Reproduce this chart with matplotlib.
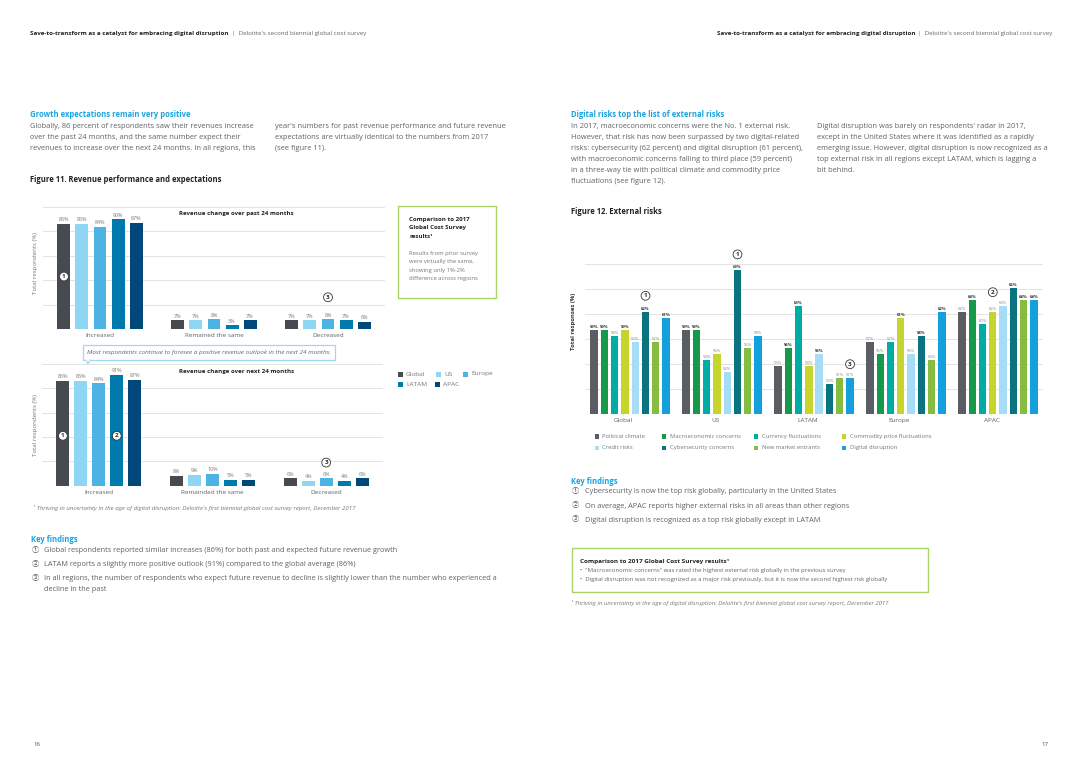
import numpy as np
import matplotlib
matplotlib.use("Agg")
import matplotlib.pyplot as plt
from matplotlib.patches import Rectangle
from matplotlib.lines import Line2D

plt.rcParams['font.family'] = ['Open Sans', 'Noto Sans CJK SC', 'DejaVu Sans']

# ---------------- data ----------------
rev_categories = ["Increased", "Remained the same", "Decreased"]
rev_next_categories = ["Increased", "Remainded the same", "Decreased"]
rev_regions = ["Global", "US", "Europe", "LATAM", "APAC"]
rev_past = {
    "Global": [86, 7, 7],
    "US": [86, 7, 7],
    "Europe": [84, 8, 8],
    "LATAM": [90, 3, 7],
    "APAC": [87, 7, 6],
}
rev_next = {
    "Global": [86, 8, 6],
    "US": [86, 9, 4],
    "Europe": [84, 10, 6],
    "LATAM": [91, 5, 4],
    "APAC": [87, 5, 6],
}

risk_groups = ["Global", "US", "LATAM", "Europe", "APAC"]
risk_series = ["Political climate", "Macroeconomic concerns", "Currency fluctuations",
               "Commodity price fluctuations", "Credit risks", "Cybersecurity concerns",
               "New market entrants", "Digital disruption"]
political = [59, 59, 53, 57, 62]
macroeconomic = [59, 59, 56, 55, 64]
currency = [58, 54, 63, 57, 60]
commodity = [59, 55, 53, 61, 62]
credit = [57, 52, 55, 55, 63]
cybersecurity = [62, 69, 50, 58, 66]
new_entrants = [57, 56, 51, 54, 64]
digital = [61, 58, 51, 62, 64]
risk_values = [political, macroeconomic, currency, commodity, credit,
               cybersecurity, new_entrants, digital]

# ---------------- styles ----------------
rev_colors = ["#474a51", "#8fd6f5", "#4cb3e4", "#0079ad", "#00487a"]
risk_colors = ["#5a5e63", "#16994a", "#00ada4", "#c5d52c", "#a6dcf5",
               "#0b7380", "#86bc3f", "#14a0dd"]
BLUE = "#1aa3df"
TXT = "#5f6166"
DARK = "#2b2b2b"
GRID = "#e3e3e3"

W, H = 1080, 764
fig = plt.figure(figsize=(W / 100, H / 100), dpi=100)
fig.patch.set_facecolor("white")
renderer = fig.canvas.get_renderer()


def fx(x):
    return x / W


def fy(y):
    return 1 - y / H


def ftext(x, y, s, size=5.4, color=TXT, weight="normal", style="normal", ha="left",
          va="center", **kw):
    return fig.text(fx(x), fy(y), s, fontsize=size, color=color, fontweight=weight,
                    fontstyle=style, ha=ha, va=va, **kw)


def lines(x, y0, dy, txt_lines, **kw):
    for i, s in enumerate(txt_lines):
        ftext(x, y0 + i * dy, s, **kw)


def frect(x0, y0, x1, y1, ec, lw=1.0):
    fig.add_artist(Rectangle((fx(x0), fy(y1)), fx(x1) - fx(x0), fy(y0) - fy(y1),
                             transform=fig.transFigure, fill=False, ec=ec, lw=lw))


def fsquare(x, y, c, s=5):
    fig.add_artist(Rectangle((fx(x - s / 2), fy(y + s / 2)), s / W, s / H,
                             transform=fig.transFigure, fc=c, ec="none"))


def add_axes(x0, x1, ytop, ybot):
    return fig.add_axes([fx(x0), fy(ybot), (x1 - x0) / W, (ybot - ytop) / H])


def circ(ax, x, y, n, size=4.6):
    ax.text(x, y, str(n), fontsize=size, fontweight="bold", color=DARK, ha="center",
            va="center", clip_on=False, zorder=5,
            bbox=dict(boxstyle="circle,pad=0.3", fc="white", ec="#333333", lw=0.6))


# ---------------- headers ----------------
for x0 in (30, 717):
    t = ftext(x0, 33, "Save-to-transform as a catalyst for embracing digital disruption",
              size=4.5, color="#222222", weight="bold")
    bb = t.get_window_extent(renderer)
    ftext(bb.x1 + 3, 33, "|  Deloitte's second biennial global cost survey", size=4.5,
          color="#666666")

# ---------------- left page text ----------------
ftext(30, 114.5, "Growth expectations remain very positive", size=5.5, color=BLUE, weight="bold")
lines(30, 126.5, 11, ["Globally, 86 percent of respondents saw their revenues increase",
                      "over the past 24 months, and the same number expect their",
                      "revenues to increase over the next 24 months. In all regions, this"])
lines(275, 126.5, 11, ["year's numbers for past revenue performance and future revenue",
                       "expectations are virtually identical to the numbers from 2017",
                       "(see figure 11)."])
ftext(30, 180, "Figure 11. Revenue performance and expectations", size=5.5, color="#222222",
      weight="bold")

# ---------------- figure 11 ----------------
group_x = np.arange(len(rev_categories))
bw = 0.114
step = 0.158


def rev_chart(ax, data, cats, title, tx, ty):
    for i, reg in enumerate(rev_regions):
        xs = group_x + (i - 2) * step
        vals = data[reg]
        ax.bar(xs, vals, width=bw, color=rev_colors[i], zorder=3)
        for xx, v in zip(xs, vals):
            ax.annotate(f"{v}%", (xx, v), xytext=(0, 1.2), textcoords="offset points",
                        ha="center", va="bottom", fontsize=3.9, color="#777777")
    ax.set_xlim(-0.5, 2.5)
    ax.set_ylim(0, 100)
    ax.set_yticks(np.arange(0, 101, 20))
    ax.set_yticklabels([])
    ax.grid(axis="y", color=GRID, lw=0.7, zorder=0)
    ax.set_axisbelow(True)
    for s in ax.spines.values():
        s.set_visible(False)
    ax.tick_params(length=0, pad=3.0)
    ax.set_xticks(group_x)
    ax.set_xticklabels(cats, fontsize=4.6, color=TXT)
    ax.text(tx, ty, title, transform=ax.transAxes, fontsize=4.4, fontweight="bold",
            color="#222222", ha="center", va="center")
    ax.set_facecolor("none")


ax1 = add_axes(43, 385, 207, 329)
rev_chart(ax1, rev_past, rev_categories, "Revenue change over past 24 months",
          0.564, 1 - 7 / 122)
circ(ax1, group_x[0] - 2 * step, 43, 1)
circ(ax1, group_x[2] + 0 * step, 26, 3)
ftext(35, 263, "Total respondents (%)", size=4.4, color="#777777", rotation=90, ha="center")

ax2 = add_axes(42, 383, 364, 485.7)
rev_chart(ax2, rev_next, rev_next_categories, "Revenue change over next 24 months",
          0.572, 1 - 7 / 121.7)
circ(ax2, group_x[0] - 2 * step, 41, 1)
circ(ax2, group_x[0] + 1 * step, 41, 2)
circ(ax2, group_x[2] + 0 * step, 19, 3)
ftext(35, 425, "Total respondents (%)", size=4.4, color="#777777", rotation=90, ha="center")

# callout between charts
frect(83, 345, 335, 360, ec="#9fd8f1", lw=0.9)
fig.add_artist(Line2D([fx(86), fx(88), fx(90)], [fy(360), fy(364), fy(360)],
                      transform=fig.transFigure, color="#9fd8f1", lw=0.9))
fig.add_artist(Line2D([fx(86.6), fx(89.4)], [fy(360), fy(360)],
                      transform=fig.transFigure, color="white", lw=1.2))
ftext(87, 352.5, "Most respondents continue to foresee a positive revenue outlook in the next 24 months.",
      size=4.55, color="#666666", style="italic")

# comparison box
frect(398, 206, 496, 298, ec="#a9d36b", lw=1.0)
lines(409, 219, 9, ["Comparison to 2017", "Global Cost Survey", "results\u00b9"],
      size=4.45, color="#222222", weight="bold")
lines(409, 253.5, 8.3, ["Results from prior survey", "were virtually the same,",
                        "showing only 1%-2%", "difference across regions"],
      size=4.25, color="#777777")

# legend fig 11
leg_pos = [(400, 374), (438, 374), (465, 374), (400, 384.5), (437, 384.5)]
for (lx, ly), reg, c in zip(leg_pos, rev_regions, rev_colors):
    fsquare(lx, ly, c, s=5)
    ftext(lx + 6, ly, reg, size=4.65, color="#777777")

ftext(33, 508, "\u00b9 Thriving in uncertainty in the age of digital disruption: Deloitte's first biennial global cost survey report, December 2017",
      size=4.4, color="#777777", style="italic")

# key findings left
ftext(31, 540, "Key findings", size=5.5, color=BLUE, weight="bold")
kf_left = [("\u2460", 550.5, ["Global respondents reported similar increases (86%) for both past and expected future revenue growth"]),
           ("\u2461", 564.5, ["LATAM reports a slightly more positive outlook (91%) compared to the global average (86%)"]),
           ("\u2462", 578.5, ["In all regions, the number of respondents who expect future revenue to decline is slightly lower than the number who experienced a",
                              "decline in the past"])]
for sym, yy, ls in kf_left:
    ftext(35, yy, sym, size=5.2, color="#555555", ha="center")
    lines(44, yy, 11, ls, size=5.35)

ftext(33, 744, "16", size=4.4, color="#555555")
ftext(1049, 744, "17", size=4.4, color="#555555", ha="right")

# ---------------- right page text ----------------
ftext(571, 114.5, "Digital risks top the list of external risks", size=5.5, color=BLUE, weight="bold")
lines(571, 126.5, 11, ["In 2017, macroeconomic concerns were the No. 1 external risk.",
                       "However, that risk has now been surpassed by two digital-related",
                       "risks: cybersecurity (62 percent) and digital disruption (61 percent),",
                       "with macroeconomic concerns falling to third place (59 percent)",
                       "in a three-way tie with political climate and commodity price",
                       "fluctuations (see figure 12)."])
lines(817, 126.5, 11, ["Digital disruption was barely on respondents' radar in 2017,",
                       "except in the United States where it was identified as a rapidly",
                       "emerging issue. However, digital disruption is now recognized as a",
                       "top external risk in all regions except LATAM, which is lagging a",
                       "bit behind."])
ftext(571, 212, "Figure 12. External risks", size=5.5, color="#222222", weight="bold")

# ---------------- figure 12 ----------------
ax3 = add_axes(585, 1043, 264, 414)
gx = np.arange(len(risk_groups))
rstep = 0.112
rbw = 0.08
for i, (name, vals, c) in enumerate(zip(risk_series, risk_values, risk_colors)):
    xs = gx + (i - 3.5) * rstep
    ax3.bar(xs, vals, width=rbw, color=c, zorder=3)
for g in range(len(risk_groups)):
    gvals = [risk_values[i][g] for i in range(len(risk_series))]
    thr = sorted(gvals, reverse=True)[2]
    for i, v in enumerate(gvals):
        xx = gx[g] + (i - 3.5) * rstep
        bold = v >= thr
        ax3.annotate(f"{v}%", (xx, v), xytext=(0, 1.0), textcoords="offset points",
                     ha="center", va="bottom", fontsize=3.1,
                     fontweight="bold" if bold else "normal",
                     color="#333333" if bold else "#888888")
ax3.set_ylim(45, 70)
ax3.set_xlim(-0.49, 4.49)
ax3.set_yticks(np.linspace(45, 70, 7))
ax3.set_yticklabels([])
ax3.grid(axis="y", color=GRID, lw=0.7, zorder=0)
ax3.set_axisbelow(True)
for s in ax3.spines.values():
    s.set_visible(False)
ax3.tick_params(length=0, pad=2.8)
ax3.set_xticks(gx - 0.07)
ax3.set_xticklabels(risk_groups, fontsize=4.6, color=TXT)
ax3.set_facecolor("none")
circ(ax3, gx[0] + (5 - 3.5) * rstep, 64.7, 1)
circ(ax3, gx[1] + (5 - 3.5) * rstep, 71.6, 1)
circ(ax3, gx[4] + (3 - 3.5) * rstep, 65.3, 2)
circ(ax3, gx[2] + (7 - 3.5) * rstep, 53.3, 3)
ftext(574, 321, "Total responses (%)", size=4.3, color="#333333", weight="bold",
      rotation=90, ha="center")

# legend fig 12
lxs = [597, 664, 756, 844]
for i, (name, c) in enumerate(zip(risk_series, risk_colors)):
    lx = lxs[i % 4]
    ly = 436.8 if i < 4 else 448
    fsquare(lx, ly, c, s=4.8)
    ftext(lx + 5.5, ly, name, size=4.25, color="#777777")

# key findings right
ftext(571, 481, "Key findings", size=5.5, color=BLUE, weight="bold")
kf_right = [("\u2460", 492, "Cybersecurity is now the top risk globally, particularly in the United States"),
            ("\u2461", 506, "On average, APAC reports higher external risks in all areas than other regions"),
            ("\u2462", 520, "Digital disruption is recognized as a top risk globally except in LATAM")]
for sym, yy, s in kf_right:
    ftext(575, yy, sym, size=5.2, color="#555555", ha="center")
    ftext(585, yy, s, size=5.3)

frect(572, 548, 928, 592, ec="#a9d36b", lw=1.0)
ftext(580, 561, "Comparison to 2017 Global Cost Survey results\u00b9", size=4.55, color="#222222",
      weight="bold")
ftext(580, 570.5, "\u2022  \"Macroeconomic concerns\" was rated the highest external risk globally in the previous survey",
      size=4.3, color="#666666")
ftext(580, 579.5, "\u2022  Digital disruption was not recognized as a major risk previously, but it is now the second highest risk globally",
      size=4.3, color="#666666")
ftext(571, 603, "\u00b9 Thriving in uncertainty in the age of digital disruption: Deloitte's first biennial global cost survey report, December 2017",
      size=4.35, color="#777777", style="italic")

fig.savefig("out.png", dpi=100, facecolor="white")
